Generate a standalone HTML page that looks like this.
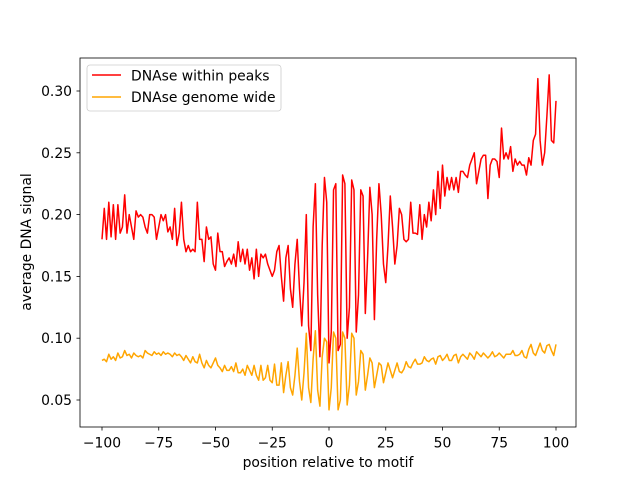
<!DOCTYPE html>
<html><head><meta charset="utf-8"><style>
body{margin:0;background:#fff}
svg text{font-family:"DejaVu Sans","Liberation Sans",sans-serif;font-size:13.9px;fill:#000}
</style></head><body>
<svg id="chart" width="640" height="480" viewBox="0 0 640 480" xmlns="http://www.w3.org/2000/svg">
<rect x="0" y="0" width="640" height="480" fill="#fff"/>
<g id="plot"></g>
<rect x="80" y="58" width="496" height="369" fill="none" stroke="#000" stroke-width="0.8"/>
<text x="328" y="467" text-anchor="middle">position relative to motif</text>
<text transform="translate(31,242) rotate(-90)" text-anchor="middle">average DNA signal</text>
<g>
<rect x="87" y="65" width="194" height="46" rx="3" fill="#fff" fill-opacity="0.8" stroke="#ccc" stroke-width="0.8"/>
<line x1="92" y1="75" x2="121" y2="75" stroke="red" stroke-width="1.5"/>
<text x="131" y="80.5">DNAse within peaks</text>
<line x1="92" y1="97" x2="121" y2="97" stroke="orange" stroke-width="1.5"/>
<text x="131" y="102">DNAse genome wide</text>
</g>
</svg>
<script>
const xStart = -100;
const xTicks = [-100,-75,-50,-25,0,25,50,75,100];
const yTicks = [0.05,0.10,0.15,0.20,0.25,0.30];
const yTickLabels = ["0.05","0.10","0.15","0.20","0.25","0.30"];
const peaks = [.18,.205,.18,.21,.182,.208,.18,.208,.185,.19,
.216,.185,.2,.19,.18,.203,.198,.2,.198,.19,
.185,.2,.2,.198,.18,.19,.2,.195,.2,.186,
.19,.18,.205,.175,.185,.21,.18,.17,.175,.17,
.172,.17,.21,.18,.18,.162,.19,.18,.182,.16,
.155,.185,.17,.17,.158,.162,.165,.16,.168,.158,
.178,.162,.172,.16,.172,.155,.165,.148,.172,.15,
.168,.165,.168,.16,.155,.15,.155,.17,.175,.15,
.13,.165,.175,.14,.125,.16,.18,.14,.11,.145,
.2,.11,.09,.19,.225,.135,.085,.175,.23,.21,
.08,.105,.22,.225,.09,.095,.232,.225,.10,.125,
.228,.22,.105,.135,.22,.215,.12,.165,.222,.2,
.115,.18,.225,.2,.16,.145,.175,.215,.19,.16,
.175,.205,.2,.18,.178,.18,.21,.185,.185,.184,
.208,.18,.2,.19,.21,.195,.22,.2,.235,.205,
.24,.215,.23,.22,.23,.22,.23,.218,.235,.235,
.232,.23,.24,.245,.25,.225,.235,.245,.248,.248,
.213,.24,.245,.245,.243,.23,.27,.245,.25,.245,
.255,.235,.245,.24,.243,.24,.24,.232,.246,.24,
.26,.265,.31,.26,.24,.25,.28,.313,.26,.258,
.292];
const genome = [.082,.083,.081,.087,.083,.085,.082,.088,.084,.085,
.09,.086,.087,.084,.088,.086,.085,.086,.084,.09,
.088,.087,.086,.089,.087,.088,.086,.089,.087,.088,
.087,.085,.088,.086,.087,.085,.082,.086,.083,.08,
.085,.081,.08,.087,.08,.076,.082,.078,.076,.08,
.084,.078,.076,.073,.078,.074,.074,.077,.073,.08,
.072,.072,.075,.07,.078,.074,.07,.078,.07,.066,
.078,.066,.068,.078,.066,.064,.079,.062,.062,.08,
.056,.07,.081,.06,.054,.07,.092,.065,.05,.072,
.104,.06,.048,.083,.106,.058,.045,.085,.1,.097,
.042,.06,.105,.1,.042,.05,.105,.1,.046,.062,
.104,.1,.054,.065,.09,.087,.058,.07,.084,.08,
.06,.07,.08,.078,.064,.072,.08,.074,.068,.074,
.08,.073,.072,.075,.081,.077,.076,.08,.083,.079,
.079,.08,.085,.082,.081,.083,.084,.079,.085,.086,
.082,.084,.087,.082,.082,.086,.087,.08,.085,.087,
.085,.083,.088,.086,.083,.089,.087,.085,.088,.086,
.084,.086,.089,.085,.086,.088,.086,.084,.087,.087,
.087,.09,.086,.086,.087,.09,.085,.084,.091,.095,
.088,.086,.091,.096,.09,.088,.094,.095,.09,.086,
.095];
const NS='http://www.w3.org/2000/svg';
function sx(v){return 102+(v+100)*2.27;}
function sy(v){return 91+(0.30-v)*1236;}
const g=document.getElementById('plot');
function mk(t,a){const e=document.createElementNS(NS,t);for(const k in a)e.setAttribute(k,a[k]);g.appendChild(e);return e;}
xTicks.forEach(v=>{
  const l=mk('line',{x1:sx(v),x2:sx(v),y1:427,y2:430.5,stroke:'#000','stroke-width':0.8});
  
  
  const t=mk('text',{x:sx(v),y:447.5,'text-anchor':'middle'});
  
  
  t.textContent=(v<0?'\u2212'+(-v):String(v));
});
yTicks.forEach((v,i)=>{
  const l=mk('line',{x1:76.5,x2:80,y1:sy(v),y2:sy(v),stroke:'#000','stroke-width':0.8});
  
  
  const t=mk('text',{x:72,y:sy(v)+5,'text-anchor':'end'});
  
  
  t.textContent=yTickLabels[i];
});
function line(arr,color,name){
  const d=arr.map((v,i)=>(i?'L':'M')+sx(xStart+i).toFixed(2)+' '+sy(v).toFixed(2)).join(' ');
  const p=mk('path',{d:d,fill:'none',stroke:color,'stroke-width':1.5,'stroke-linejoin':'round'});
  
  
}
line(peaks,'red','series-within-peaks');
line(genome,'orange','series-genome-wide');
</script>
</body></html>
